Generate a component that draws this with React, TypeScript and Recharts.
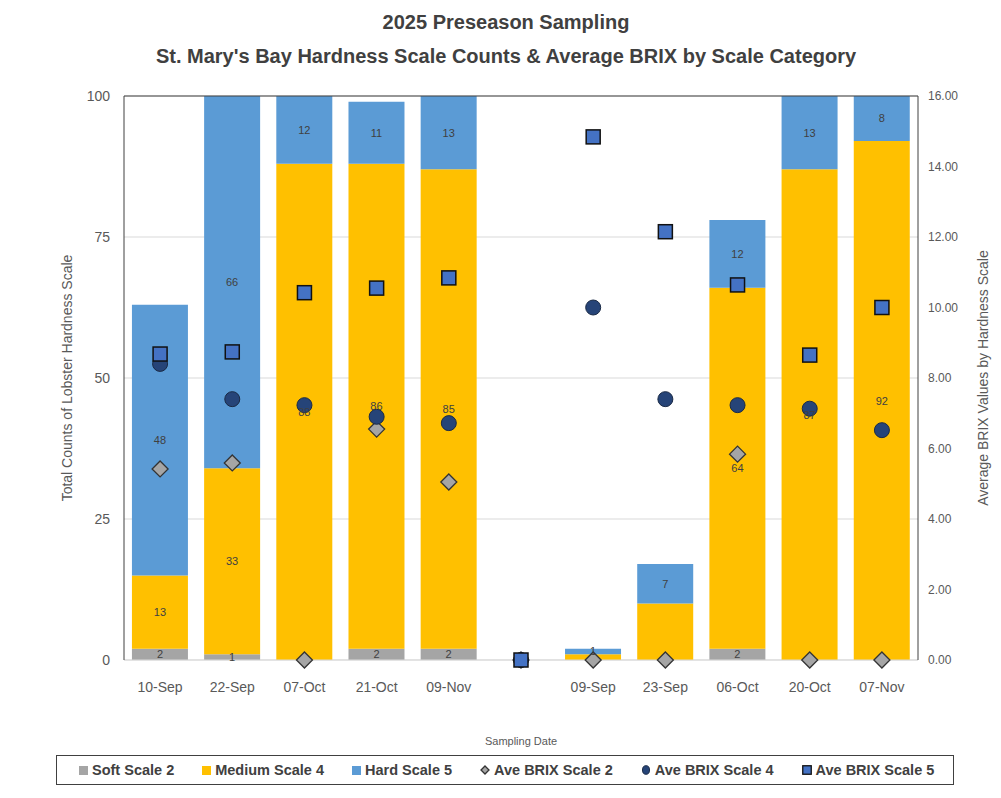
import React from "react";
import {
  ComposedChart,
  Bar,
  Scatter,
  XAxis,
  YAxis,
  CartesianGrid,
  LabelList,
  ReferenceLine,
} from "recharts";

const dates = ["10-Sep", "22-Sep", "07-Oct", "21-Oct", "09-Nov", "", "09-Sep", "23-Sep", "06-Oct", "20-Oct", "07-Nov"];
const softScale2 = [2, 1, 0, 2, 2, 0, 0, 0, 2, 0, 0];
const mediumScale4 = [13, 33, 88, 86, 85, 0, 1, 10, 64, 87, 92];
const hardScale5 = [48, 66, 12, 11, 13, 0, 1, 7, 12, 13, 8];
const brixScale2 = [5.42, 5.59, 0, 6.55, 5.05, 0, 0, 0, 5.84, 0, 0];
const brixScale4 = [8.4, 7.4, 7.23, 6.9, 6.72, 0, 10.0, 7.4, 7.23, 7.13, 6.52];
const brixScale5 = [8.68, 8.74, 10.42, 10.55, 10.84, 0, 14.84, 12.15, 10.64, 8.65, 10.0];
const countTicks = [0, 25, 50, 75, 100];
const brixTicks = [0, 2, 4, 6, 8, 10, 12, 14, 16];

const SOFT = "#A5A5A5";
const MEDIUM = "#FFC000";
const HARD = "#5B9BD5";
const NAVY = "#264478";
const BLUE = "#4472C4";
const TEXT = "#595959";

const data = dates.map((d, i) => ({
  date: d,
  soft: softScale2[i],
  medium: mediumScale4[i],
  hard: hardScale5[i],
  brix2: brixScale2[i],
  brix4: brixScale4[i],
  brix5: brixScale5[i],
}));

const hideZero = (v: any) => (v ? v : "");

// medium label is dropped when the whole bar is too short to hold two labels
const MediumLabel = (props: any) => {
  const { x, y, width, height, value, index } = props;
  const total = softScale2[index] + mediumScale4[index] + hardScale5[index];
  if (!value || total < 5) return null;
  return (
    <text
      x={x + width / 2}
      y={y + height / 2}
      textAnchor="middle"
      dominantBaseline="central"
      fill="#404040"
      fontSize={11}
    >
      {value}
    </text>
  );
};

const Diamond = ({ cx, cy }: any) => (
  <path
    d={`M${cx},${cy - 8} L${cx + 8},${cy} L${cx},${cy + 8} L${cx - 8},${cy} Z`}
    fill={SOFT}
    stroke="#333"
    strokeWidth={1.3}
  />
);
const Dot = ({ cx, cy }: any) => <circle cx={cx} cy={cy} r={7.5} fill={NAVY} stroke="#1a2a45" strokeWidth={1} />;
const Square = ({ cx, cy }: any) => (
  <rect x={cx - 7} y={cy - 7} width={14} height={14} fill={BLUE} stroke="#111" strokeWidth={1.5} />
);

const box = (c: string) => <span style={{ width: 9, height: 9, background: c, display: "inline-block" }} />;

const legendItems = [
  { name: "Soft Scale 2", mark: box(SOFT) },
  { name: "Medium Scale 4", mark: box(MEDIUM) },
  { name: "Hard Scale 5", mark: box(HARD) },
  {
    name: "Ave BRIX Scale 2",
    mark: (
      <svg width={10} height={10}>
        <path d="M5,1 L9,5 L5,9 L1,5 Z" fill={SOFT} stroke="#333" strokeWidth={1.3} />
      </svg>
    ),
  },
  {
    name: "Ave BRIX Scale 4",
    mark: (
      <svg width={10} height={10}>
        <ellipse cx={5} cy={5} rx={3.5} ry={4.3} fill={NAVY} stroke="#1a2a45" />
      </svg>
    ),
  },
  {
    name: "Ave BRIX Scale 5",
    mark: (
      <svg width={10} height={10}>
        <rect x={0.75} y={0.75} width={8.5} height={8.5} fill={BLUE} stroke="#111" strokeWidth={1.3} />
      </svg>
    ),
  },
];

export default function App() {
  return (
    <div
      style={{
        position: "absolute",
        left: 0,
        top: 0,
        width: 1001,
        height: 798,
        background: "#fff",
        fontFamily: "'Liberation Sans', Arial, sans-serif",
      }}
    >
      <div
        style={{
          position: "absolute",
          top: 5,
          left: 0,
          width: 1012,
          textAlign: "center",
          fontWeight: "bold",
          fontSize: 20,
          lineHeight: "34px",
          color: "#404040",
        }}
      >
        <div>2025 Preseason Sampling</div>
        <div>St. Mary's Bay Hardness Scale Counts &amp; Average BRIX by Scale Category</div>
      </div>

      <ComposedChart
        width={1001}
        height={798}
        data={data}
        margin={{ top: 96, right: 8, bottom: 48, left: 50 }}
        barCategoryGap="11%"
      >
        <CartesianGrid vertical={false} stroke="#D9D9D9" yAxisId="left" />
        <XAxis
          dataKey="date"
          tickLine={false}
          tickSize={0}
          tickMargin={22}
          axisLine={{ stroke: "#D9D9D9" }}
          tick={{ fill: TEXT, fontSize: 14 }}
          height={90}
          interval={0}
          label={{ value: "Sampling Date", position: "insideBottom", offset: 5, fill: TEXT, fontSize: 11 }}
        />
        <YAxis
          yAxisId="left"
          width={74}
          domain={[0, 100]}
          ticks={countTicks}
          tickLine={false}
          tickSize={0}
          tickMargin={14}
          axisLine={{ stroke: "#404040" }}
          tick={{ fill: TEXT, fontSize: 14 }}
          label={{
            value: "Total Counts of Lobster Hardness Scale",
            angle: -90,
            position: "insideLeft",
            offset: 17,
            fill: TEXT,
            fontSize: 14,
            style: { textAnchor: "middle" },
          }}
        />
        <YAxis
          yAxisId="right"
          orientation="right"
          width={75}
          domain={[0, 16]}
          ticks={brixTicks}
          tickFormatter={(v: number) => v.toFixed(2)}
          tickLine={false}
          tickSize={0}
          tickMargin={10}
          axisLine={{ stroke: "#404040" }}
          tick={{ fill: TEXT, fontSize: 12 }}
          label={{
            value: "Average BRIX Values by Hardness Scale",
            angle: -90,
            position: "insideRight",
            offset: 10,
            fill: TEXT,
            fontSize: 14,
            style: { textAnchor: "middle" },
          }}
        />
        <ReferenceLine yAxisId="left" y={100} stroke="#404040" />
        <Bar yAxisId="left" dataKey="soft" stackId="a" fill={SOFT} isAnimationActive={false}>
          <LabelList dataKey="soft" position="center" fill="#404040" fontSize={11} formatter={hideZero} />
        </Bar>
        <Bar yAxisId="left" dataKey="medium" stackId="a" fill={MEDIUM} isAnimationActive={false}>
          <LabelList dataKey="medium" content={MediumLabel} />
        </Bar>
        <Bar yAxisId="left" dataKey="hard" stackId="a" fill={HARD} isAnimationActive={false}>
          <LabelList dataKey="hard" position="center" fill="#404040" fontSize={11} formatter={hideZero} />
        </Bar>
        <Scatter yAxisId="right" dataKey="brix2" shape={Diamond} isAnimationActive={false} />
        <Scatter yAxisId="right" dataKey="brix4" shape={Dot} isAnimationActive={false} />
        <Scatter yAxisId="right" dataKey="brix5" shape={Square} isAnimationActive={false} />
      </ComposedChart>

      <div
        style={{
          position: "absolute",
          left: 56,
          top: 755,
          width: 898,
          height: 30,
          border: "1.5px solid #404040",
          display: "flex",
          alignItems: "center",
          gap: 28,
          paddingLeft: 22,
          boxSizing: "border-box",
          fontSize: 14.5,
          fontWeight: "bold",
          color: "#404040",
          whiteSpace: "nowrap",
        }}
      >
        {legendItems.map((it) => (
          <div key={it.name} style={{ display: "flex", alignItems: "center", gap: 4 }}>
            {it.mark}
            <span>{it.name}</span>
          </div>
        ))}
      </div>
    </div>
  );
}
